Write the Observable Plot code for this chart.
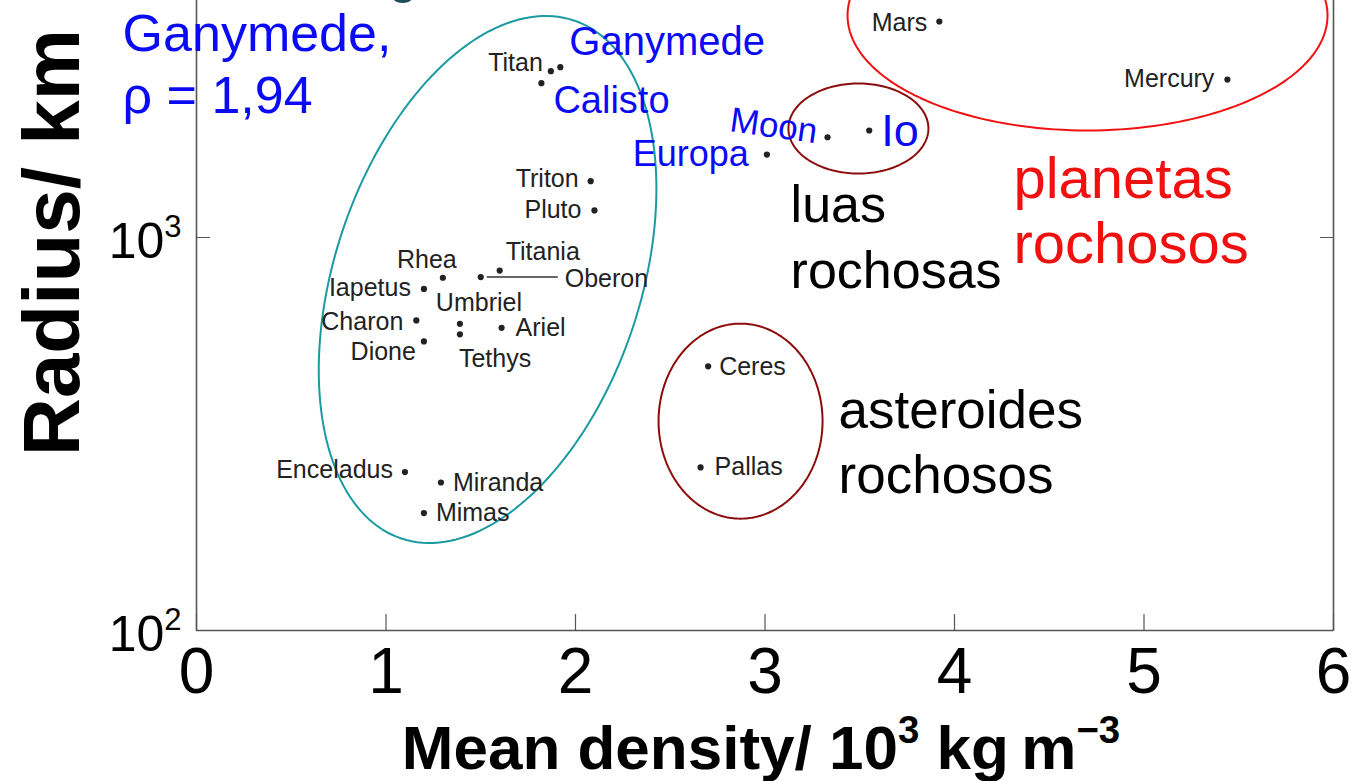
<!DOCTYPE html>
<html><head><meta charset="utf-8">
<script src="https://cdn.jsdelivr.net/npm/d3@7"></script>
<script src="https://cdn.jsdelivr.net/npm/@observablehq/plot@0.6"></script>
<style>html,body{margin:0;padding:0;background:#fff;overflow:hidden}</style>
</head><body><div id="chart"></div>
<script>
// ---- data ----
const bodies    = ["Mars","Mercury","Moon","Io","Europa","Ganymede","Titan","Calisto","Triton","Pluto","Titania","Oberon","Rhea","Iapetus","Umbriel","Charon","Ariel","Tethys","Dione","Ceres","Pallas","Enceladus","Miranda","Mimas"];
const densities = [3.92, 5.44, 3.33, 3.55, 3.01, 1.92, 1.87, 1.82, 2.08, 2.10, 1.60, 1.50, 1.30, 1.20, 1.39, 1.16, 1.61, 1.39, 1.20, 2.70, 2.66, 1.10, 1.29, 1.20];
const radii     = [3545, 2523, 1799, 1872, 1626, 2713, 2650, 2470, 1391, 1172, 824, 793, 790, 740, 603, 615, 589, 567, 544, 470, 260, 253, 238, 199];

const xTicks = [0, 1, 2, 3, 4, 5, 6];
const yTicks = [100, 1000];
const yTickLabels = ["10{2}", "10{3}"];
const xTitle = "Mean density/ 10{3} kg\u2009m{\u22123}";
const yTitle = "Radius/ km";

// free annotations (text, density, radius)
const notes        = ["Ganymede,", "\u03C1 = 1,94", "luas", "rochosas", "planetas", "rochosos", "asteroides", "rochosos", "g"];
const noteDensity  = [-0.39, -0.39, 3.135, 3.135, 4.311, 4.311, 3.388, 3.388, 1.013];
const noteRadius   = [2991, 2080, 1092, 746, 1264, 859, 327, 224, 4202];

// group ellipses (centre density, centre radius)
const ellipseNames   = ["gelados", "planetas", "luas", "asteroides"];
const ellipseDensity = [1.536, 4.702, 3.493, 2.871];
const ellipseRadius  = [782, 3672, 1894, 341];

// ---- styling / layout (not data) ----
const W = 1352, H = 781;
const xOpts = {domain: [0, 6], range: [196, 1333]};
const yOpts = {type: "log", domain: [100, 1000], range: [630, 237]};
const X = Plot.scale({x: xOpts});
const Y = Plot.scale({y: yOpts});
const BLUE = "#0a0af5", RED = "#f01010", DARKRED = "#8c0c0c", TEAL = "#1b9ba1", AXIS = "#555";
const FONT = "Liberation Sans, Arial, Helvetica, sans-serif";

const noteStyle = [
  {fill: BLUE, size: 52}, {fill: BLUE, size: 52},
  {fill: "#000", size: 52}, {fill: "#000", size: 52},
  {fill: RED, size: 58}, {fill: RED, size: 58},
  {fill: "#000", size: 53}, {fill: "#000", size: 53},
  {fill: "#1e4d5c", size: 52}
];
const ellipseShape = [
  {rx: 153, ry: 273, angle: 18.4, stroke: TEAL},
  {rx: 240, ry: 115, angle: 0, stroke: RED},
  {rx: 70, ry: 45, angle: 0, stroke: DARKRED},
  {rx: 82, ry: 97.5, angle: 0, stroke: DARKRED}
];
// [textAnchor, dx, dy]
const labelLayout = {
  Mars: ["end", -12, 1], Mercury: ["end", -13, -1], Titan: ["end", -8, -8], Triton: ["end", -12, -2],
  Pluto: ["end", -13, 0], Titania: ["start", 6, -19], Oberon: ["start", 84, 2], Rhea: ["middle", -16, -18],
  Iapetus: ["end", -13, -1], Umbriel: ["middle", 19, -21], Charon: ["end", -13, 2], Ariel: ["start", 14, 0],
  Tethys: ["start", -1, 25], Dione: ["end", -8, 11], Ceres: ["start", 11, 1], Pallas: ["start", 14, 0],
  Enceladus: ["end", -12, -2], Miranda: ["start", 12, 0], Mimas: ["start", 12, 0]
};
// [textAnchor, dx, dy(baseline), fontSize, rotate]
const blueLayout = {
  Ganymede: ["start", 9, -12, 40, 0], Calisto: ["start", 12, 30, 38, 0],
  Europa: ["end", -18, 11, 36, 0], Moon: ["end", -12, 6, 35, 8], Io: ["start", 12, 16, 45, 0]
};

const table = bodies.map((name, i) => ({name, density: densities[i], radius: radii[i]}));

function ellipsePoints(i) {
  const s = ellipseShape[i];
  const cx = X.apply(ellipseDensity[i]), cy = Y.apply(ellipseRadius[i]);
  const th = s.angle * Math.PI / 180;
  return d3.range(0, 360, 2).map(deg => {
    const t = deg * Math.PI / 180;
    const ux = s.rx * Math.cos(t), uy = s.ry * Math.sin(t);
    const px = cx + ux * Math.cos(th) - uy * Math.sin(th);
    const py = cy + ux * Math.sin(th) + uy * Math.cos(th);
    return {density: X.invert(px), radius: Y.invert(py)};
  });
}

const tickShape = {draw(ctx, l) { ctx.moveTo(0, 0); ctx.lineTo(0, -l); }};

const marks = [];
// ellipses
ellipseNames.forEach((n, i) => {
  marks.push(Plot.line(ellipsePoints(i), {x: "density", y: "radius", curve: "linear-closed", stroke: ellipseShape[i].stroke, strokeWidth: 2}));
});
// axes lines
marks.push(Plot.ruleX([0, 6], {stroke: AXIS, strokeWidth: 1.6}));
marks.push(Plot.ruleY([100], {stroke: AXIS, strokeWidth: 1.6}));
// ticks (inward)
marks.push(Plot.vector(xTicks, {x: d => d, y: () => 100, length: 16, rotate: 0, anchor: "start", shape: tickShape, stroke: AXIS, strokeWidth: 1.2}));
marks.push(Plot.vector(yTicks, {x: () => 0, y: d => d, length: 13, rotate: 90, anchor: "start", shape: tickShape, stroke: AXIS, strokeWidth: 1.2}));
marks.push(Plot.vector(yTicks, {x: () => 6, y: d => d, length: 13, rotate: -90, anchor: "start", shape: tickShape, stroke: AXIS, strokeWidth: 1.2}));
// tick labels
marks.push(Plot.text(xTicks, {x: d => d, text: d => String(d), frameAnchor: "bottom", dy: 62, lineAnchor: "bottom", fontSize: 64, fill: "#000"}));
marks.push(Plot.text(yTicks, {y: d => d, text: (d, i) => yTickLabels[i], frameAnchor: "left", textAnchor: "end", dx: -15, dy: 20, lineAnchor: "bottom", fontSize: 50, fill: "#000"}));
// axis titles
marks.push(Plot.text([xTitle], {text: d => d, frameAnchor: "bottom", dx: -4, dy: 138, lineAnchor: "bottom", fontSize: 62, fontWeight: "bold", fill: "#000"}));
marks.push(Plot.text([yTitle], {text: d => d, frameAnchor: "left", dx: -118, dy: -73, rotate: -90, lineAnchor: "bottom", textAnchor: "middle", fontSize: 80, fontWeight: "bold", fill: "#000"}));
// Oberon leader line
marks.push(Plot.link(table.filter(d => d.name === "Oberon"), {x1: "density", y1: "radius", x2: d => d.density + 0.375, y2: "radius", dx: 6, stroke: "#333", strokeWidth: 1.5}));
// dots
marks.push(Plot.dot(table, {x: "density", y: "radius", r: 3.1, fill: "#222", stroke: "none"}));
// small black labels
table.forEach(d => {
  const L = labelLayout[d.name];
  if (!L) return;
  marks.push(Plot.text([d], {x: "density", y: "radius", text: "name", textAnchor: L[0], dx: L[1], dy: L[2], fontSize: 25, fill: "#222"}));
});
// blue labels
table.forEach(d => {
  const L = blueLayout[d.name];
  if (!L) return;
  marks.push(Plot.text([d], {x: "density", y: "radius", text: "name", textAnchor: L[0], dx: L[1], dy: L[2], fontSize: L[3], rotate: L[4], lineAnchor: "bottom", fill: BLUE}));
});
// free annotations
notes.forEach((t, i) => {
  marks.push(Plot.text([{t, density: noteDensity[i], radius: noteRadius[i]}], {x: "density", y: "radius", text: "t", textAnchor: "start", lineAnchor: "bottom", fontSize: noteStyle[i].size, fill: noteStyle[i].fill}));
});

const chart = Plot.plot({
  width: W, height: H,
  marginLeft: 196, marginRight: 19, marginTop: 0, marginBottom: 151,
  x: {...xOpts, axis: null},
  y: {...yOpts, axis: null},
  style: {fontFamily: FONT, background: "#fff", overflow: "visible"},
  marks
});
document.getElementById("chart").appendChild(chart);

// superscripts: "{...}" segments become raised tspans
chart.querySelectorAll("text").forEach(t => {
  const s = t.textContent;
  if (!s.includes("{")) return;
  const fs = parseFloat(getComputedStyle(t).fontSize);
  const parts = s.split(/(\{[^}]*\})/).filter(p => p.length);
  t.textContent = "";
  let raised = false;
  parts.forEach(p => {
    const ts = document.createElementNS("http://www.w3.org/2000/svg", "tspan");
    if (p.startsWith("{")) {
      ts.textContent = p.slice(1, -1);
      ts.setAttribute("font-size", (fs * 0.62).toFixed(1));
      ts.setAttribute("dy", (-fs * 0.42).toFixed(1));
      raised = true;
    } else {
      ts.textContent = p;
      if (raised) { ts.setAttribute("dy", (fs * 0.42).toFixed(1)); raised = false; }
    }
    t.appendChild(ts);
  });
});
</script>
</body></html>
